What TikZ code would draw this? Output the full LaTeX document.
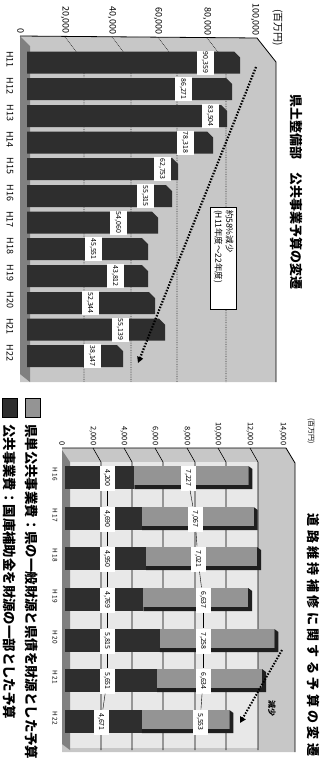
\documentclass[tikz,border=0pt]{standalone}
\usepackage{fontspec}
\setmainfont{Noto Sans CJK JP}
\usetikzlibrary{arrows.meta}

\tikzset{
  stipple/.style={fill=black!22},
  wall/.style={fill=black!9},
  floor/.style={fill=black!50},
  axis/.style={draw=black, line width=0.8pt},
  gridone/.style={draw=black!80, line width=0.7pt, densely dotted},
  gridtwo/.style={draw=black, line width=0.6pt},
  darkbar/.style={fill=black!82},
  lightbar/.style={fill=black!42},
  shade/.style={fill=black!88},
  axone/.style={rotate=-90, anchor=east, inner sep=0.5pt, font=\fontsize{9}{9}\selectfont},
  axtwo/.style={rotate=-90, anchor=east, inner sep=0.5pt, font=\fontsize{7.5}{7.5}\selectfont},
  catone/.style={rotate=-90, inner sep=0pt, font=\fontsize{9}{9}\selectfont},
  cattwo/.style={rotate=-90, inner sep=0pt, font=\fontsize{6.5}{6.5}\selectfont},
  valone/.style={rotate=-90, fill=white, inner sep=0pt, minimum width=24pt, minimum height=17pt, font=\fontsize{7}{7}\selectfont},
  valtwo/.style={rotate=-90, fill=white, inner sep=0pt, minimum width=25pt, minimum height=15pt, font=\fontsize{7}{7}\selectfont},
  headline/.style={rotate=-90, inner sep=0pt, font=\fontsize{13}{13}\selectfont\bfseries},
  unitlabel/.style={rotate=-90, inner sep=0pt},
  dotarrow/.style={line width=2.2pt, dash pattern=on 1.5pt off 1.5pt, -{Triangle[length=6pt,width=6pt]}},
  legendtext/.style={rotate=-90, anchor=west, inner sep=0pt, font=\fontsize{13.4}{13.4}\selectfont\bfseries}
}

\begin{document}
\begin{tikzpicture}[x=1pt, y=-1pt]
\useasboundingbox (0,0) rectangle (324,779);

% upper chart: frame, floor and grid
\fill[stipple] (20,36) -- (257,38) -- (276,62) -- (276,382) -- (20,382) -- cycle;
\fill[floor] (20,36) -- (30,46) -- (30,382) -- (20,374) -- cycle;
\draw[gridone] (65,37) -- (84,62) -- (84,382);
\draw[gridone] (112,37) -- (131,62) -- (131,382);
\draw[gridone] (158,37.5) -- (177,62) -- (177,382);
\draw[gridone] (207,38) -- (226,62) -- (226,382);
\draw[axis] (20,36) -- (257,38) -- (276,62) -- (276,382);
\node[axone] (xa0) at (20.5,34) {0};
\node[axone] (xa1) at (65,34.5) {20,000};
\node[axone] (xa2) at (112,35) {40,000};
\node[axone] (xa3) at (158,35.5) {60,000};
\node[axone] (xa4) at (207,36) {80,000};
\node[axone] (xa5) at (255,36.5) {100,000};
\node[unitlabel, font=\fontsize{10}{10}\selectfont] (unitone) at (277.5,28) {(百万円)};
\node[headline] (titleone) at (296.5,191.5) {県土整備部　公共事業予算の変遷};

% upper chart: bars
\fill[darkbar] (27,51.5) -- (234,51.5) -- (240,57.5) -- (240,73.5) -- (27,73.5) -- cycle;
\fill[darkbar] (27,78) -- (226,78) -- (232,84) -- (232,100) -- (27,100) -- cycle;
\fill[darkbar] (27,105) -- (221,105) -- (227,111) -- (227,127) -- (27,127) -- cycle;
\fill[darkbar] (27,131.5) -- (207,131.5) -- (213,137.5) -- (213,153.5) -- (27,153.5) -- cycle;
\fill[darkbar] (27,158) -- (172,158) -- (178,164) -- (178,180) -- (27,180) -- cycle;
\fill[darkbar] (27,185) -- (166,185) -- (172,191) -- (172,207) -- (27,207) -- cycle;
\fill[darkbar] (27,211.5) -- (152,211.5) -- (158,217.5) -- (158,233.5) -- (27,233.5) -- cycle;
\fill[darkbar] (27,238) -- (142,238) -- (148,244) -- (148,260) -- (27,260) -- cycle;
\fill[darkbar] (27,265) -- (142,265) -- (148,271) -- (148,287) -- (27,287) -- cycle;
\fill[darkbar] (27,292) -- (149,292) -- (155,298) -- (155,314) -- (27,314) -- cycle;
\fill[darkbar] (27,318.5) -- (159,318.5) -- (165,324.5) -- (165,340.5) -- (27,340.5) -- cycle;
\fill[darkbar] (27,345) -- (117,345) -- (123,351) -- (123,367) -- (27,367) -- cycle;
\node[valone] (va11) at (205,62.5) {90,359};
\node[valone] (va12) at (183,89) {86,271};
\node[valone] (va13) at (210,116) {83,504};
\node[valone] (va14) at (185,142.5) {78,318};
\node[valone] (va15) at (162,169) {62,753};
\node[valone] (va16) at (145,196) {55,315};
\node[valone] (va17) at (118,222.5) {54,060};
\node[valone] (va18) at (93,249) {45,551};
\node[valone] (va19) at (115,276) {43,812};
\node[valone] (va20) at (90,303) {52,344};
\node[valone] (va21) at (120,329.5) {55,139};
\node[valone] (va22) at (92,356) {38,147};
\node[catone] (ya11) at (10,59.5) {H11};
\node[catone] (ya12) at (10,86) {H12};
\node[catone] (ya13) at (10,113) {H13};
\node[catone] (ya14) at (10,139.5) {H14};
\node[catone] (ya15) at (10,166) {H15};
\node[catone] (ya16) at (10,193) {H16};
\node[catone] (ya17) at (10,219.5) {H17};
\node[catone] (ya18) at (10,246) {H18};
\node[catone] (ya19) at (10,273) {H19};
\node[catone] (ya20) at (10,300) {H20};
\node[catone] (ya21) at (10,326.5) {H21};
\node[catone] (ya22) at (10,353) {H22};

% upper chart: trend
\coordinate (dropstart) at (256,67);
\coordinate (dropend) at (138,363);
\draw[dotarrow] (dropstart) -- (dropend);
\node[rotate=-90, draw=black, fill=white, line width=0.6pt, inner sep=3pt, text width=96pt, align=left, font=\fontsize{8.5}{11}\selectfont] (dropnote) at (223.5,258) {約58\%減少\\(H11年度～22年度)};

% lower chart: frame, floor and grid
\fill[stipple] (62,448) -- (286,448) -- (295,463) -- (295,752) -- (62,752) -- cycle;
\fill[wall] (70,462) rectangle (258,748);
\fill[floor] (62,450) -- (70,462) -- (70,750) -- (62,744) -- cycle;
\draw[gridtwo] (93,448) -- (101,462) -- (101,750);
\draw[gridtwo] (124,448) -- (132,462) -- (132,750);
\draw[gridtwo] (155,448) -- (163,462) -- (163,750);
\draw[gridtwo] (187,448) -- (195,462) -- (195,750);
\draw[gridtwo] (218,448) -- (226,462) -- (226,750);
\draw[gridtwo] (250,448) -- (258,462) -- (258,750);
\draw[axis] (62,448) -- (286,448) -- (295,463) -- (295,752);
\node[axtwo] (xb0) at (62,446) {0};
\node[axtwo] (xb1) at (93,446) {2,000};
\node[axtwo] (xb2) at (124,446) {4,000};
\node[axtwo] (xb3) at (155,446) {6,000};
\node[axtwo] (xb4) at (187,446) {8,000};
\node[axtwo] (xb5) at (218,446) {10,000};
\node[axtwo] (xb6) at (250,446) {12,000};
\node[axtwo] (xb7) at (283,446) {14,000};
\node[unitlabel, font=\fontsize{7}{7}\selectfont] (unittwo) at (311,431) {(百万円)};
\node[headline] (titletwo) at (313.5,635) {\addfontfeatures{LetterSpace=26}道路維持補修に関する予算の変遷};

% lower chart: bars
\fill[darkbar] (65,466) rectangle (134.3,489);
\fill[shade] (134.3,485) -- (248.4,485) -- (248.4,466) -- (252.4,469) -- (252.4,489) -- (134.3,489) -- cycle;
\fill[lightbar] (134.3,466) rectangle (248.4,485);
\node[valtwo] (da16) at (107,478) {4,200};
\node[valtwo] (la16) at (188,478) {7,227};
\fill[darkbar] (65,507) rectangle (142.1,530);
\fill[shade] (142.1,526) -- (253.6,526) -- (253.6,507) -- (257.6,510) -- (257.6,530) -- (142.1,530) -- cycle;
\fill[lightbar] (142.1,507) rectangle (253.6,526);
\node[valtwo] (da17) at (107,519) {4,690};
\node[valtwo] (la17) at (195,519) {7,067};
\fill[darkbar] (65,547) rectangle (146.2,570);
\fill[shade] (146.2,566) -- (257,566) -- (257,547) -- (261,550) -- (261,570) -- (146.2,570) -- cycle;
\fill[lightbar] (146.2,547) rectangle (257,566);
\node[valtwo] (da18) at (107,559) {4,950};
\node[valtwo] (la18) at (198,559) {7,021};
\fill[darkbar] (65,588) rectangle (143.3,611);
\fill[shade] (143.3,607) -- (248.1,607) -- (248.1,588) -- (252.1,591) -- (252.1,611) -- (143.3,611) -- cycle;
\fill[lightbar] (143.3,588) rectangle (248.1,607);
\node[valtwo] (da19) at (107,600) {4,769};
\node[valtwo] (la19) at (203,600) {6,637};
\fill[darkbar] (65,629) rectangle (159.8,652);
\fill[shade] (159.8,648) -- (274.4,648) -- (274.4,629) -- (278.4,632) -- (278.4,652) -- (159.8,652) -- cycle;
\fill[lightbar] (159.8,629) rectangle (274.4,648);
\node[valtwo] (da20) at (107,641) {5,815};
\node[valtwo] (la20) at (203,641) {7,258};
\fill[darkbar] (65,669) rectangle (157.2,692);
\fill[shade] (157.2,688) -- (262,688) -- (262,669) -- (266,672) -- (266,692) -- (157.2,692) -- cycle;
\fill[lightbar] (157.2,669) rectangle (262,688);
\node[valtwo] (da21) at (107,681) {5,651};
\node[valtwo] (la21) at (203,681) {6,634};
\fill[darkbar] (65,710) rectangle (141.8,733);
\fill[shade] (141.8,729) -- (229.4,729) -- (229.4,710) -- (233.4,713) -- (233.4,733) -- (141.8,733) -- cycle;
\fill[lightbar] (141.8,710) rectangle (229.4,729);
\node[valtwo] (da22) at (101,722) {4,671};
\node[valtwo] (la22) at (200,722) {5,553};
\draw (da16) -- (da17);
\draw (da17) -- (da18);
\draw (da18) -- (da19);
\draw (da19) -- (da20);
\draw (da20) -- (da21);
\draw (da21) -- (da22);
\draw (la16) -- (la17);
\draw (la17) -- (la18);
\draw (la18) -- (la19);
\draw (la19) -- (la20);
\draw (la20) -- (la21);
\draw (la21) -- (la22);
\node[cattwo] (yb16) at (55,474) {H 16};
\node[cattwo] (yb17) at (55,515) {H 17};
\node[cattwo] (yb18) at (55,555) {H 18};
\node[cattwo] (yb19) at (55,596) {H 19};
\node[cattwo] (yb20) at (55,637) {H 20};
\node[cattwo] (yb21) at (55,677) {H 21};
\node[cattwo] (yb22) at (55,718) {H 22};

% lower chart: trend
\coordinate (fallstart) at (282,650);
\coordinate (fallend) at (240,723);
\draw[dotarrow, line width=2pt] (fallstart) -- (fallend);
\node[unitlabel, font=\fontsize{8}{8}\selectfont\bfseries] (falltext) at (272,708) {減少};

% legend
\filldraw[lightbar, draw=black] (25,398) rectangle (40,417);
\filldraw[darkbar, draw=black] (2,398) rectangle (17,417);
\node[legendtext] (keyone) at (31.5,424) {県単公共事業費：県の一般財源と県債を財源とした予算};
\node[legendtext] (keytwo) at (9.5,424) {公共事業費：国庫補助金を財源の一部とした予算};
\end{tikzpicture}
\end{document}
